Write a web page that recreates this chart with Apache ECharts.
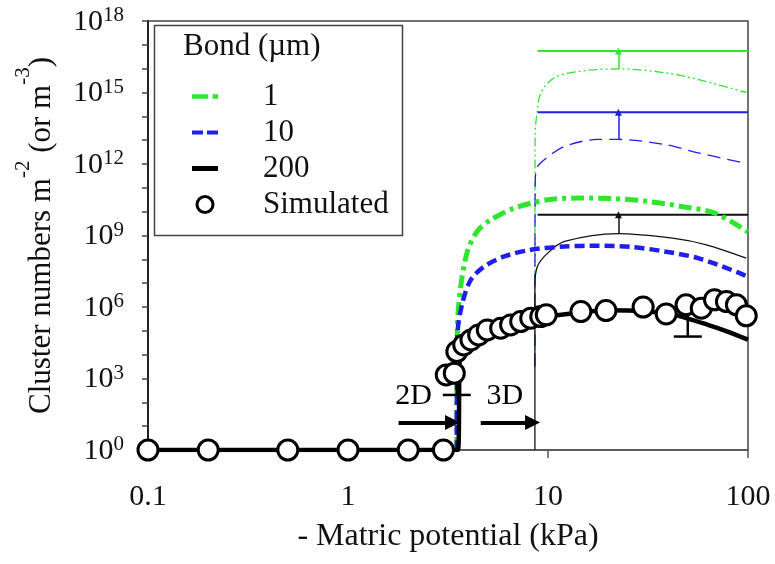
<!DOCTYPE html>
<html lang="en">
<head>
<meta charset="UTF-8">
<title>Cluster numbers vs matric potential</title>
<script src="https://cdn.jsdelivr.net/npm/echarts@6.0.0/dist/echarts.min.js"></script>
<style>html,body{margin:0;padding:0;background:#fff;}</style>
</head>
<body>
<div id="main" style="width:775px;height:564px;"></div>
<script>
var FONT = '"Liberation Serif", "Times New Roman", serif';
var GREEN = '#2ee62e';
var BLUE = '#1f1fe6';

// x = - matric potential (kPa), y = log10(cluster numbers)
// simulated points
var simX = [0.1, 0.2, 0.5, 1, 2, 3, 3.1, 3.4, 3.5, 3.79, 4.12, 4.5, 4.97, 5.8, 6.5, 7.3, 8.2, 9.2, 9.8,
            14.6, 19.5, 29.9, 39, 49, 58.4, 68, 78, 87.5, 98];
var simY = [0, 0, 0, 0, 0, 0, 3.15, 3.22, 4.13, 4.41, 4.62, 4.83, 5.04, 5.11, 5.25, 5.39, 5.53, 5.6, 5.67,
            5.81, 5.85, 6.0, 5.71, 6.09, 5.95, 6.30, 6.23, 6.09, 5.63];

// error bars on simulated points (low, high)
var errX = [3.5, 50];
var errLo = [2.31, 4.76];
var errHi = [3.22, 6.09];

// bond 1 um (thick = 2D model, thin = 3D model)
var g1X = [3.5, 3.52, 3.66, 3.96, 4.45, 5.18, 6.78, 9.96, 14.6, 21.5, 31.6, 46.4, 68.2, 100];
var g1Y = [0, 5.04, 6.86, 8.35, 9.2, 9.66, 10.15, 10.5, 10.57, 10.55, 10.43, 10.22, 9.94, 9.15];
var t1X = [8.6, 8.62, 8.81, 9.22, 10.76, 14.6, 22.7, 38.3, 56.2, 98];
var t1Y = [3.5, 13.2, 14.15, 14.99, 15.62, 15.9, 15.99, 15.83, 15.55, 15.0];

// bond 10 um
var b10X = [3.5, 3.52, 3.73, 4.11, 4.80, 6.04, 8.22, 12.1, 17.7, 26, 38.3, 56.2, 91, 100];
var b10Y = [0, 4.76, 6.16, 7.14, 7.70, 8.12, 8.40, 8.54, 8.57, 8.52, 8.33, 8.05, 7.42, 7.25];
var t10X = [8.6, 8.62, 8.71, 9.58, 12.1, 17.7, 22.5, 38.3, 56.2, 94.6];
var t10Y = [3.5, 10.8, 11.76, 12.18, 12.74, 13.03, 13.03, 12.82, 12.47, 12.05];

// bond 200 um
var b200X = [0.1, 3.55, 3.6, 3.65, 4.0, 4.5, 5, 6, 7, 8, 10, 15, 20, 30, 43, 63, 79, 100];
var b200Y = [0, 0, 3.0, 4.1, 4.5, 4.8, 5.0, 5.15, 5.3, 5.45, 5.6, 5.78, 5.86, 5.82, 5.67, 5.25, 4.97, 4.63];
var t200X = [8.6, 8.6, 8.85, 9.96, 12.1, 22.3, 42, 62, 98];
var t200Y = [0, 6.9, 7.7, 8.26, 8.75, 9.08, 8.89, 8.61, 8.05];

// upper limits and the arrows pointing to them
var limStartX = 8.87;
var limEndX = 100;
var lim1 = 16.74, lim10 = 14.17, lim200 = 9.87;
var arrowX = 22.5;
var peak1 = 15.99, peak10 = 13.03, peak200 = 9.08;

// 2D / 3D annotations
var noteNames = ['2D', '3D'];
var noteX = [2.13, 6.08];
var noteY = 2.24;
var noteArrowFrom = [1.79, 4.61];
var noteArrowTo = [3.33, 8.37];
var noteArrowY = 1.15;

function pairs(xs, ys) {
    return xs.map(function (x, i) { return [x, ys[i]]; });
}

function limitSeries(name, color, lim, peak) {
    return {
        name: name, type: 'line', symbol: 'none', silent: true, z: 3,
        data: [[limStartX, lim], [limEndX, lim]],
        lineStyle: {color: color, width: 2},
        markLine: {
            silent: true, symbol: ['none', 'triangle'], symbolSize: 7,
            label: {show: false},
            lineStyle: {color: color, width: 1.5, type: 'solid'},
            data: [[{coord: [arrowX, peak]}, {coord: [arrowX, lim]}]]
        }
    };
}

function renderErr(params, api) {
    var x = api.value(0);
    var lo = api.coord([x, api.value(1)]);
    var hi = api.coord([x, api.value(2)]);
    var hw = 14;
    var st = {stroke: '#000', lineWidth: 2.5};
    return {
        type: 'group',
        children: [
            {type: 'line', shape: {x1: lo[0], y1: lo[1], x2: hi[0], y2: hi[1]}, style: st},
            {type: 'line', shape: {x1: lo[0] - hw, y1: lo[1], x2: lo[0] + hw, y2: lo[1]}, style: st}
        ]
    };
}

function renderNote(params, api) {
    var p = api.coord([api.value(0), api.value(1)]);
    return {
        type: 'text', x: p[0], y: p[1],
        style: {text: noteNames[params.dataIndex], font: '30px ' + FONT, fill: '#000',
                align: 'center', verticalAlign: 'middle'}
    };
}

var myChart = echarts.init(document.getElementById('main'));

var option = {
    animation: false,
    grid: {
        left: 148, right: 27, top: 21, bottom: 114,
        show: true, borderColor: '#444', borderWidth: 1.5,
        outerBoundsMode: 'none'
    },
    xAxis: {
        type: 'log', logBase: 10, min: 0.1, max: 100,
        name: '- Matric potential (kPa)', nameLocation: 'middle', nameGap: 71,
        nameMoveOverlap: false,
        nameTextStyle: {fontFamily: FONT, fontSize: 32, color: '#111'},
        axisLine: {lineStyle: {color: '#555', width: 1.5}},
        axisTick: {show: true, inside: false, length: 8, lineStyle: {color: '#555', width: 1.5}},
        splitLine: {show: false},
        minorTick: {show: false},
        axisLabel: {
            margin: 32, fontFamily: FONT, fontSize: 30, color: '#111',
            formatter: function (v) { return v < 1 ? v.toFixed(1) : String(Math.round(v)); }
        }
    },
    yAxis: {
        type: 'value', min: 0, max: 18, interval: 1,
        name: '{t|Cluster numbers m}{u|-2}{t| (or m}{u|-3}{t|)}',
        nameLocation: 'middle', nameRotate: 90, nameGap: 91,
        nameMoveOverlap: false,
        nameTextStyle: {
            rich: {
                t: {fontFamily: FONT, fontSize: 31, color: '#111', lineHeight: 44, verticalAlign: 'bottom'},
                u: {fontFamily: FONT, fontSize: 21, color: '#111', lineHeight: 22, verticalAlign: 'top'}
            }
        },
        axisLine: {lineStyle: {color: '#222', width: 2}},
        axisTick: {show: true, inside: false, length: 6, lineStyle: {color: '#444', width: 1.5}},
        splitLine: {show: false},
        axisLabel: {
            margin: 24,
            formatter: function (v) { return v % 3 === 0 ? '{b|10}{s|' + v + '}' : ''; },
            rich: {
                b: {fontFamily: FONT, fontSize: 30, color: '#111', lineHeight: 32, verticalAlign: 'bottom'},
                s: {fontFamily: FONT, fontSize: 21, color: '#111', lineHeight: 21, verticalAlign: 'top'}
            }
        }
    },
    legend: {
        orient: 'vertical', left: 187, top: 76,
        itemWidth: 26, itemHeight: 16, itemGap: 5,
        selectedMode: false,
        textStyle: {fontFamily: FONT, fontSize: 31, color: '#111', padding: [0, 0, 0, 40]},
        data: [
            {name: '1', icon: 'path://M0,0h15v4h-15z M19,0h5v4h-5z', itemStyle: {color: GREEN, borderWidth: 0}},
            {name: '10', icon: 'path://M0,0h11v4h-11z M15,0h11v4h-11z', itemStyle: {color: BLUE, borderWidth: 0}},
            {name: '200', icon: 'path://M0,0h26v5h-26z', itemStyle: {color: '#000', borderWidth: 0}},
            {name: 'Simulated', icon: 'circle', itemStyle: {color: '#fff', borderColor: '#000', borderWidth: 3}}
        ]
    },
    graphic: [
        {type: 'rect', left: 152, top: 23, z: 100,
         shape: {width: 248, height: 210},
         style: {fill: 'none', stroke: '#444', lineWidth: 1.5}},
        {type: 'text', left: 183, top: 31, z: 100,
         style: {text: 'Bond (\u00b5m)', font: '31px ' + FONT, fill: '#111'}}
    ],
    series: [
        {name: '1 (3D)', type: 'line', symbol: 'none', silent: true, z: 2, smooth: 0.3,
         data: pairs(t1X, t1Y), lineStyle: {color: GREEN, width: 1.3, type: [9, 3, 2, 3, 2, 3]}},
        {name: '10 (3D)', type: 'line', symbol: 'none', silent: true, z: 2, smooth: 0.3,
         data: pairs(t10X, t10Y), lineStyle: {color: BLUE, width: 1.3, type: [13, 7]}},
        {name: '200 (3D)', type: 'line', symbol: 'none', silent: true, z: 2, smooth: 0.3,
         data: pairs(t200X, t200Y), lineStyle: {color: '#111', width: 1.3}},
        limitSeries('1 (max)', GREEN, lim1, peak1),
        limitSeries('10 (max)', BLUE, lim10, peak10),
        limitSeries('200 (max)', '#111', lim200, peak200),
        {name: '1', type: 'line', symbol: 'none', silent: true, z: 4, smooth: 0.3,
         data: pairs(g1X, g1Y), itemStyle: {color: GREEN},
         lineStyle: {color: GREEN, width: 5, type: [13, 5, 4, 5]}},
        {name: '10', type: 'line', symbol: 'none', silent: true, z: 4, smooth: 0.3,
         data: pairs(b10X, b10Y), itemStyle: {color: BLUE},
         lineStyle: {color: BLUE, width: 4.5, type: [10, 5]}},
        {name: '200', type: 'line', symbol: 'none', silent: true, z: 5, smooth: 0.2,
         data: pairs(b200X, b200Y), itemStyle: {color: '#000'},
         lineStyle: {color: '#000', width: 4.5}},
        {name: 'error', type: 'custom', silent: true, z: 6,
         data: errX.map(function (x, i) { return [x, errLo[i], errHi[i]]; }),
         encode: {x: 0, y: [1, 2]}, renderItem: renderErr},
        {name: 'Simulated', type: 'scatter', silent: true, z: 8,
         data: pairs(simX, simY), symbol: 'circle', symbolSize: 20,
         itemStyle: {color: '#fff', borderColor: '#000', borderWidth: 3, opacity: 1}},
        {name: 'notes', type: 'custom', silent: true, z: 9,
         data: noteX.map(function (x) { return [x, noteY]; }),
         encode: {x: 0, y: 1}, renderItem: renderNote,
         markLine: {
             silent: true, symbol: ['none', 'triangle'], symbolSize: 15,
             label: {show: false},
             lineStyle: {color: '#000', width: 4, type: 'solid'},
             data: noteArrowFrom.map(function (x, i) {
                 return [{coord: [x, noteArrowY]}, {coord: [noteArrowTo[i], noteArrowY]}];
             })
         }}
    ]
};

myChart.setOption(option);
</script>
</body>
</html>
